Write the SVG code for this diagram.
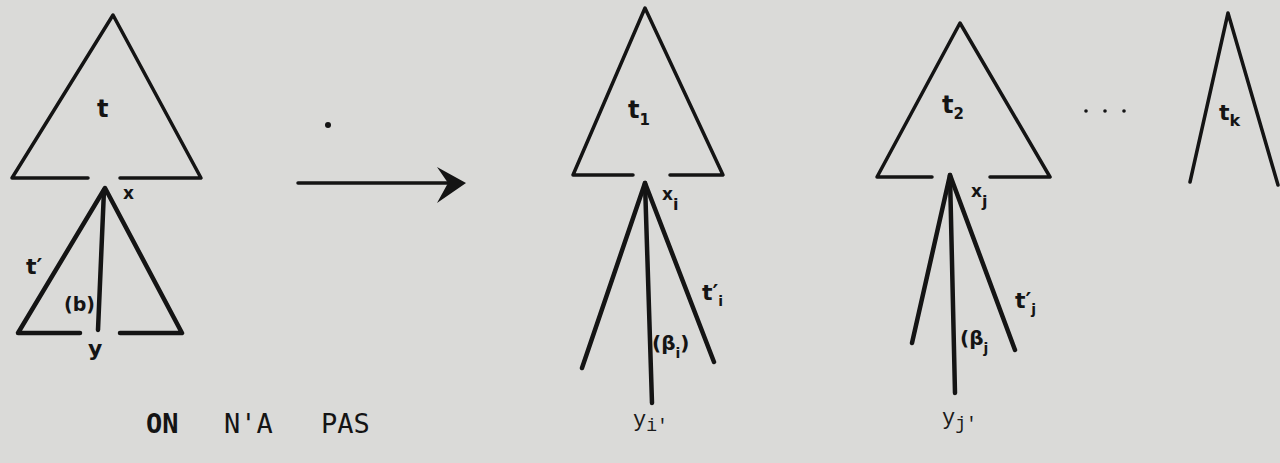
<svg xmlns="http://www.w3.org/2000/svg" width="1280" height="463" viewBox="0 0 1280 463">
<defs>
<style>
.ln{fill:none;stroke:#141414;stroke-width:3.5;stroke-linecap:round;stroke-linejoin:round}
.hv{stroke-width:4.5}
.hw{font-family:"DejaVu Sans",sans-serif;font-weight:bold;fill:#141414}
.tw{font-family:"Liberation Mono",monospace;fill:#1a1a1a}
.cap{font-family:"DejaVu Sans Mono",monospace;fill:#141414;font-size:27px}
</style>
</defs>
<rect width="1280" height="463" fill="#dadad8"/>
<g id="tree-t">
<path class="ln" d="M88,178 L12,178 L113,15 L201,178 L120,178"/>
<text class="hw" x="97" y="117" font-size="24">t</text>
<text class="hw" x="123" y="199" font-size="17" font-weight="normal">x</text>
</g>
<g id="tree-tprime">
<path class="ln hv" d="M80,333 L18,333 L105,188 L182,333 L120,333"/>
<path class="ln hv" d="M104,190 L98,330"/>
<text class="hw" x="26" y="274" font-size="22">t′</text>
<text class="hw" x="64" y="311" font-size="19">(b)</text>
<text class="hw" x="88" y="356" font-size="22" font-weight="normal">y</text>
</g>
<g id="dot"><circle cx="328" cy="125" r="3" fill="#141414"/></g>
<g id="connectors">
<path class="ln" d="M298,183 L452,183"/>
<path d="M437,167 L466,183 L437,203 L448,183 Z" fill="#141414"/>
</g>
<g id="tree-t1">
<path class="ln" d="M633,175 L573,175 L645,8 L723,175 L670,175"/>
<text class="hw" x="628" y="118" font-size="24">t<tspan font-size="15" dy="7">1</tspan></text>
</g>
<g id="fan-i">
<path class="ln hv" d="M582,368 L645,183 L714,362"/>
<path class="ln hv" d="M645,183 L652,403"/>
<text class="hw" x="662" y="200" font-size="17" font-weight="normal">x<tspan font-size="16" dy="10">i</tspan></text>
<text class="hw" x="702" y="300" font-size="22" font-weight="normal">t′<tspan font-size="14" dy="6">i</tspan></text>
<text class="hw" x="652" y="350" font-size="20" font-weight="normal">(β<tspan font-size="14" dy="8">i</tspan><tspan dy="-8">)</tspan></text>
<text class="tw" x="633" y="426" font-size="22">y<tspan font-size="18" dy="5">i'</tspan></text>
</g>
<g id="tree-t2">
<path class="ln" d="M932,177 L877,177 L960,23 L1050,177 L990,177"/>
<text class="hw" x="942" y="113" font-size="24">t<tspan font-size="15" dy="6">2</tspan></text>
</g>
<g id="fan-j">
<path class="ln hv" d="M912,343 L950,175 L1015,350"/>
<path class="ln hv" d="M950,175 L955,393"/>
<text class="hw" x="971" y="197" font-size="17" font-weight="normal">x<tspan font-size="16" dy="10">j</tspan></text>
<text class="hw" x="1015" y="308" font-size="22">t′<tspan font-size="14" dy="6">j</tspan></text>
<text class="hw" x="960" y="345" font-size="20">(β<tspan font-size="14" dy="8">j</tspan></text>
<text class="tw" x="942" y="424" font-size="22">y<tspan font-size="18" dy="5">j'</tspan></text>
</g>
<g id="ellipsis">
<circle cx="1086" cy="111" r="1.8" fill="#141414"/>
<circle cx="1105" cy="111" r="1.8" fill="#141414"/>
<circle cx="1124" cy="111" r="1.8" fill="#141414"/>
</g>
<g id="tree-tk">
<path class="ln" d="M1190,182 L1228,13 L1278,185"/>
<text class="hw" x="1219" y="120" font-size="22">t<tspan font-size="16" dy="6">k</tspan></text>
</g>
<g id="caption">
<text class="cap" x="146" y="433" font-weight="bold">ON</text>
<text class="cap" x="224" y="433">N'A</text>
<text class="cap" x="321" y="433">PAS</text>
</g>
</svg>
